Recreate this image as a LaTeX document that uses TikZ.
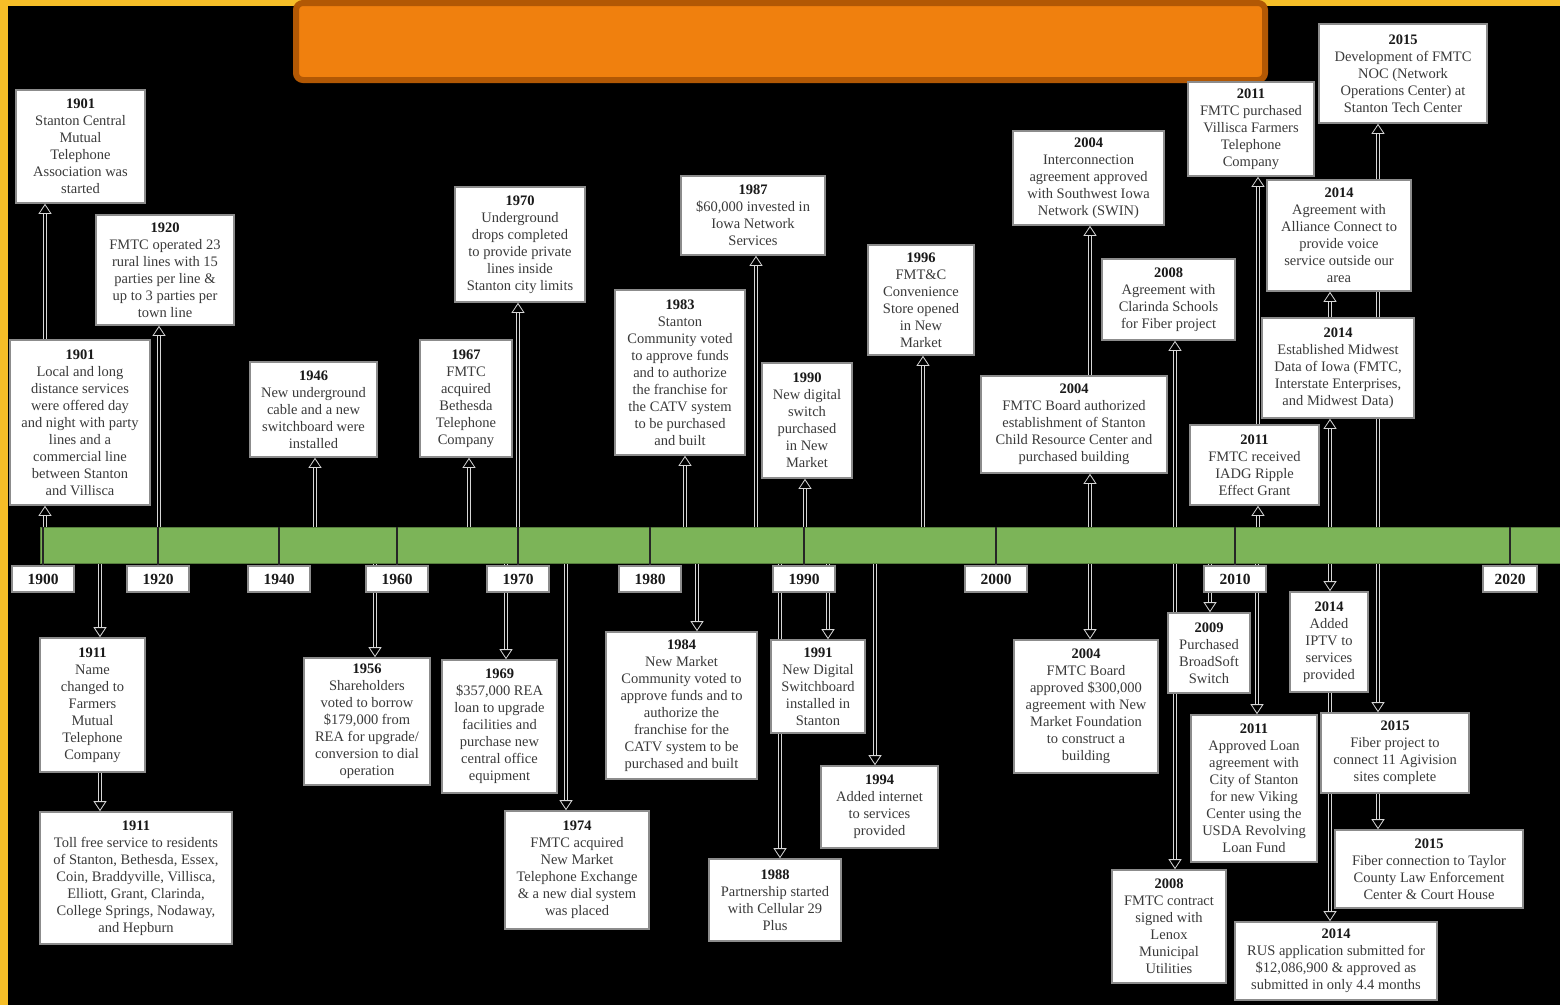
\documentclass[tikz,border=0pt]{standalone}
\usepackage{fontspec}
\setmainfont{Liberation Serif}
\usetikzlibrary{arrows.meta}
\definecolor{frameY}{RGB}{246,190,40}
\definecolor{ttlfill}{RGB}{240,128,14}
\definecolor{ttledge}{RGB}{178,88,4}
\definecolor{bargreen}{RGB}{124,180,88}
\definecolor{txt}{RGB}{58,58,58}
\definecolor{yrtxt}{RGB}{25,25,25}
\definecolor{boxedge}{RGB}{140,140,140}
\definecolor{connedge}{RGB}{215,215,215}
\pgfdeclarelayer{back}
\pgfdeclarelayer{lines}
\pgfsetlayers{back,lines,main}
\newcommand\yr[1]{{\bfseries\color{yrtxt}#1}}
\newcommand\evt[6]{\node[evbox, minimum width={#4pt-#2pt}, minimum height={#5pt-#3pt}] (#1) at ({(#2+#4)/2},{(#3+#5)/2}) {#6};}
\newcommand\upc[2]{\draw[conn] (#1) -- (#1 |- #2.south);}
\newcommand\downc[2]{\draw[conn] (#1) -- (#1 |- #2.north);}
\newcommand\chainup[3]{\draw[conn] (#1 |- #2.north) -- (#1 |- #3.south);}
\newcommand\chaindown[3]{\draw[conn] (#1 |- #2.south) -- (#1 |- #3.north);}
\begin{document}
\begin{tikzpicture}[x=1pt,y=-1pt,
 evbox/.style={draw=boxedge, line width=1.6pt, fill=white, align=center, inner sep=1pt, text=txt, font=\fontsize{14.5}{17}\selectfont},
 yrlbl/.style={draw=boxedge, line width=1.4pt, fill=white, minimum width=62pt, minimum height=26pt, inner sep=0pt, font=\bfseries\fontsize{15.5}{17}\selectfont, text=yrtxt},
 conn/.style={draw=connedge, line width=0.8pt, double=black, double distance=2pt, -{Triangle[open, width=13pt, length=10pt]}},
 tick/.style={draw=black!85, line width=1.4pt}]
\useasboundingbox (0,0) rectangle (1560,1005);
\begin{pgfonlayer}{back}
\fill[frameY] (0,0) rectangle (1560,1005);
\fill[black] (8,6) rectangle (1560,1005);
\draw[fill=ttlfill, draw=ttledge, line width=6pt, rounded corners=7pt] (296,3) rectangle (1265,80);
\end{pgfonlayer}
% timeline bar
\node[fill=bargreen, draw=bargreen!70!black, line width=0.6pt, minimum width=1520pt, minimum height=36pt, inner sep=0pt] (bar) at (800,545) {};
\node[yrlbl] (l1900) at (43,579) {1900};
\node[yrlbl] (l1920) at (158,579) {1920};
\node[yrlbl] (l1940) at (279,579) {1940};
\node[yrlbl] (l1960) at (397,579) {1960};
\node[yrlbl] (l1970) at (518,579) {1970};
\node[yrlbl] (l1980) at (650,579) {1980};
\node[yrlbl] (l1990) at (804,579) {1990};
\node[yrlbl] (l2000) at (996,579) {2000};
\node[yrlbl] (l2010) at (1235,579) {2010};
\node[yrlbl, minimum width=54pt] (l2020) at (1510,579) {2020};
\foreach \l in {l1900,l1920,l1940,l1960,l1970,l1980,l1990,l2000,l2010,l2020}
  \draw[tick] (\l.north |- bar.north) -- (\l.north);
% events above
\evt{b1901a}{16}{90}{145}{203}{\yr{1901}\\Stanton Central\\Mutual\\Telephone\\Association was\\started}
\evt{b1901b}{10}{340}{150}{505}{\yr{1901}\\Local and long\\distance services\\were offered day\\and night with party\\lines and a\\commercial line\\between Stanton\\and Villisca}
\evt{b1920}{96}{215}{234}{325}{\yr{1920}\\FMTC operated 23\\rural lines with 15\\parties per line \&\\up to 3 parties per\\town line}
\evt{b1946}{250}{362}{377}{457}{\yr{1946}\\New underground\\cable and a new\\switchboard were\\installed}
\evt{b1967}{420}{340}{512}{457}{\yr{1967}\\FMTC\\acquired\\Bethesda\\Telephone\\Company}
\evt{b1970}{455}{187}{585}{302}{\yr{1970}\\Underground\\drops completed\\to provide private\\lines inside\\Stanton city limits}
\evt{b1983}{615}{290}{745}{455}{\yr{1983}\\Stanton\\Community voted\\to approve funds\\and to authorize\\the franchise for\\the CATV system\\to be purchased\\and built}
\evt{b1987}{681}{176}{825}{255}{\yr{1987}\\\$60,000 invested in\\Iowa Network\\Services}
\evt{b1990}{762}{363}{852}{478}{\yr{1990}\\New digital\\switch\\purchased\\in New\\Market}
\evt{b1996}{868}{245}{974}{355}{\yr{1996}\\FMT\&C\\Convenience\\Store opened\\in New\\Market}
\evt{b2004a}{1013}{131}{1164}{225}{\yr{2004}\\Interconnection\\agreement approved\\with Southwest Iowa\\Network (SWIN)}
\evt{b2004b}{981}{376}{1167}{473}{\yr{2004}\\FMTC Board authorized\\establishment of Stanton\\Child Resource Center and\\purchased building}
\evt{b2008a}{1102}{259}{1235}{340}{\yr{2008}\\Agreement with\\Clarinda Schools\\for Fiber project}
\evt{b2011a}{1188}{82}{1314}{176}{\yr{2011}\\FMTC purchased\\Villisca Farmers\\Telephone\\Company}
\evt{b2011b}{1190}{425}{1319}{505}{\yr{2011}\\FMTC received\\IADG Ripple\\Effect Grant}
\evt{b2015a}{1319}{24}{1487}{123}{\yr{2015}\\Development of FMTC\\NOC (Network\\Operations Center) at\\Stanton Tech Center}
\evt{b2014a}{1267}{180}{1411}{291}{\yr{2014}\\Agreement with\\Alliance Connect to\\provide voice\\service outside our\\area}
\evt{b2014b}{1262}{318}{1414}{418}{\yr{2014}\\Established Midwest\\Data of Iowa (FMTC,\\Interstate Enterprises,\\and Midwest Data)}
% events below
\evt{b1911a}{40}{638}{145}{772}{\yr{1911}\\Name\\changed to\\Farmers\\Mutual\\Telephone\\Company}
\evt{b1911b}{40}{812}{232}{944}{\yr{1911}\\Toll free service to residents\\of Stanton, Bethesda, Essex,\\Coin, Braddyville, Villisca,\\Elliott, Grant, Clarinda,\\College Springs, Nodaway,\\and Hepburn}
\evt{b1956}{304}{658}{430}{785}{\yr{1956}\\Shareholders\\voted to borrow\\\$179,000 from\\REA for upgrade/\\conversion to dial\\operation}
\evt{b1969}{442}{660}{557}{793}{\yr{1969}\\\$357,000 REA\\loan to upgrade\\facilities and\\purchase new\\central office\\equipment}
\evt{b1974}{505}{811}{649}{929}{\yr{1974}\\FMTC acquired\\New Market\\Telephone Exchange\\\& a new dial system\\was placed}
\evt{b1984}{606}{632}{757}{779}{\yr{1984}\\New Market\\Community voted to\\approve funds and to\\authorize the\\franchise for the\\CATV system to be\\purchased and built}
\evt{b1991}{771}{640}{865}{733}{\yr{1991}\\New Digital\\Switchboard\\installed in\\Stanton}
\evt{b1988}{709}{859}{841}{941}{\yr{1988}\\Partnership started\\with Cellular 29\\Plus}
\evt{b1994}{821}{766}{938}{848}{\yr{1994}\\Added internet\\to services\\provided}
\evt{b2004c}{1014}{640}{1158}{773}{\yr{2004}\\FMTC Board\\approved \$300,000\\agreement with New\\Market Foundation\\to construct a\\building}
\evt{b2009}{1168}{613}{1250}{693}{\yr{2009}\\Purchased\\BroadSoft\\Switch}
\evt{b2011c}{1191}{715}{1317}{862}{\yr{2011}\\Approved Loan\\agreement with\\City of Stanton\\for new Viking\\Center using the\\USDA Revolving\\Loan Fund}
\evt{b2008b}{1112}{870}{1226}{983}{\yr{2008}\\FMTC contract\\signed with\\Lenox\\Municipal\\Utilities}
\evt{b2014c}{1290}{592}{1368}{692}{\yr{2014}\\Added\\IPTV to\\services\\provided}
\evt{b2015b}{1321}{713}{1469}{793}{\yr{2015}\\Fiber project to\\connect 11 Agivision\\sites complete}
\evt{b2015c}{1335}{830}{1523}{908}{\yr{2015}\\Fiber connection to Taylor\\County Law Enforcement\\Center \& Court House}
\evt{b2014d}{1235}{922}{1437}{1000}{\yr{2014}\\RUS application submitted for\\\$12,086,900 \& approved as\\submitted in only 4.4 months}
% connector anchors
\foreach \x in {45,159,315,469,518,685,756,805,923,1090,1175,1258,1330,1378}
  \coordinate (u\x) at (\x,527);
\foreach \x in {100,375,506,566,697,780,828,875,1090,1175,1210,1257,1330,1378}
  \coordinate (d\x) at (\x,563);
\begin{pgfonlayer}{lines}
\upc{u45}{b1901b} \chainup{u45}{b1901b}{b1901a}
\upc{u159}{b1920}
\upc{u315}{b1946}
\upc{u469}{b1967}
\upc{u518}{b1970}
\upc{u685}{b1983}
\upc{u756}{b1987}
\upc{u805}{b1990}
\upc{u923}{b1996}
\upc{u1090}{b2004b} \chainup{u1090}{b2004b}{b2004a}
\upc{u1175}{b2008a}
\upc{u1258}{b2011b} \chainup{u1258}{b2011b}{b2011a}
\upc{u1330}{b2014b} \chainup{u1330}{b2014b}{b2014a}
\upc{u1378}{b2015a}
\downc{d100}{b1911a} \chaindown{d100}{b1911a}{b1911b}
\downc{d375}{b1956}
\downc{d506}{b1969}
\downc{d566}{b1974}
\downc{d697}{b1984}
\downc{d780}{b1988}
\downc{d828}{b1991}
\downc{d875}{b1994}
\downc{d1090}{b2004c}
\downc{d1175}{b2008b}
\downc{d1210}{b2009}
\downc{d1257}{b2011c}
\downc{d1330}{b2014c} \chaindown{d1330}{b2014c}{b2014d}
\downc{d1378}{b2015b} \chaindown{d1378}{b2015b}{b2015c}
\end{pgfonlayer}
\end{tikzpicture}
\end{document}
